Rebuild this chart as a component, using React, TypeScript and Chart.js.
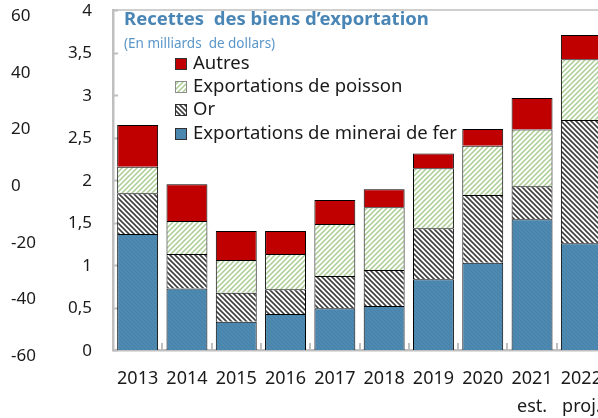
import React, { useEffect, useRef } from 'react';
import { Chart, registerables } from 'chart.js';

Chart.register(...registerables);

// ---- Data ----
const categories: (string | string[])[] = [
  '2013', '2014', '2015', '2016', '2017', '2018', '2019', '2020',
  ['2021', 'est.'], ['2022', 'proj.'],
];
const ironOre = [1.365, 0.725, 0.333, 0.424, 0.49, 0.518, 0.831, 1.027, 1.537, 1.255];
const gold = [0.478, 0.404, 0.342, 0.29, 0.381, 0.423, 0.6, 0.796, 0.39, 1.451];
const fish = [0.314, 0.389, 0.384, 0.415, 0.611, 0.737, 0.706, 0.579, 0.667, 0.714];
const others = [0.49, 0.431, 0.341, 0.271, 0.283, 0.212, 0.176, 0.197, 0.372, 0.286];

const seriesNames = ['Exportations de minerai de fer', 'Or', 'Exportations de poisson', 'Autres'];
const titleText = 'Recettes  des biens d\u2019exportation';
const subtitleText = '(En milliards  de dollars)';

const innerMin = 0, innerMax = 4, innerStep = 0.5;
const outerMin = -60, outerMax = 60, outerStep = 20;

const FONT = '"Noto Sans", "DejaVu Sans", sans-serif';

function makePattern(
  ctx: CanvasRenderingContext2D, bg: string, fg: string, size: number, lw: number, dir: 'fwd' | 'back'
): CanvasPattern | string {
  const c = document.createElement('canvas');
  c.width = size; c.height = size;
  const x = c.getContext('2d')!;
  x.fillStyle = bg; x.fillRect(0, 0, size, size);
  x.strokeStyle = fg; x.lineWidth = lw;
  x.beginPath();
  if (dir === 'fwd') {
    x.moveTo(-1, size + 1); x.lineTo(size + 1, -1);
    x.moveTo(-size / 2, size / 2); x.lineTo(size / 2, -size / 2);
    x.moveTo(size / 2, size * 1.5); x.lineTo(size * 1.5, size / 2);
  } else {
    x.moveTo(-1, -1); x.lineTo(size + 1, size + 1);
    x.moveTo(-size / 2, size / 2); x.lineTo(size / 2, size * 1.5);
    x.moveTo(size / 2, -size / 2); x.lineTo(size * 1.5, size / 2);
  }
  x.stroke();
  return ctx.createPattern(c, 'repeat') || bg;
}

export default function App() {
  const ref = useRef<HTMLCanvasElement>(null);

  useEffect(() => {
    const canvas = ref.current!;
    const ctx = canvas.getContext('2d')!;

    const bluePat = makePattern(ctx, '#4d89b0', '#4580a6', 4, 1, 'back');
    const goldPat = makePattern(ctx, '#ffffff', '#3f3f3f', 5, 1.6, 'back');
    const fishPat = makePattern(ctx, '#ffffff', '#a9cd92', 5, 1.5, 'fwd');
    const red = '#c00000';
    const fills = [bluePat, goldPat, fishPat, red];
    const values = [ironOre, gold, fish, others];

    const decor = {
      id: 'decor',
      beforeDatasetsDraw(chart: any) {
        const { ctx: c, chartArea, scales } = chart;
        c.save();
        c.strokeStyle = '#bfbfbf';
        c.lineWidth = 1.5;
        c.beginPath();
        c.moveTo(chartArea.left, chartArea.top);
        c.lineTo(chartArea.right, chartArea.top);
        c.stroke();
        c.lineWidth = 2;
        const ys = scales.y;
        for (const t of ys.ticks) {
          const py = Math.round(ys.getPixelForValue(t.value)) + 0.5;
          c.beginPath();
          c.moveTo(chartArea.left, py);
          c.lineTo(chartArea.left + 5, py);
          c.stroke();
        }
        const xs = scales.x;
        for (let i = 0; i < categories.length - 1; i++) {
          const px = Math.round((xs.getPixelForValue(i) + xs.getPixelForValue(i + 1)) / 2);
          c.beginPath();
          c.moveTo(px, chartArea.bottom);
          c.lineTo(px, chartArea.bottom - 7);
          c.stroke();
        }
        c.restore();
      },
      afterDraw(chart: any) {
        const c = chart.ctx;
        c.save();
        c.textBaseline = 'middle';
        c.textAlign = 'left';
        c.fillStyle = '#4a86b5';
        c.font = `bold 18.5px ${FONT}`;
        c.fillText(titleText, 124, 20);
        c.fillStyle = '#5b96c9';
        c.font = `13.5px ${FONT}`;
        c.fillText(subtitleText, 124, 44);
        const rows = [64, 87, 110, 134];
        const order = [3, 2, 1, 0];
        c.font = `18.5px ${FONT}`;
        order.forEach((di, r) => {
          const cy = rows[r];
          c.fillStyle = fills[di];
          c.fillRect(175, cy - 6, 12, 12);
          c.strokeStyle = di === 2 ? '#8c8c8c' : '#303030';
          c.lineWidth = 1;
          c.strokeRect(175.5, cy - 5.5, 11, 11);
          c.fillStyle = '#1a1a1a';
          c.fillText(seriesNames[di], 193, cy);
        });
        c.restore();
      },
    };

    const noPad = (s: any) => { s.paddingTop = 0; s.paddingBottom = 0; };

    const chart = new Chart(ctx, {
      type: 'bar',
      data: {
        labels: categories as any,
        datasets: values.map((v, i) => ({
          label: seriesNames[i],
          data: v,
          backgroundColor: fills[i] as any,
          borderColor: '#000000',
          borderWidth: { top: 1, left: 1, right: 1, bottom: 0 },
          borderSkipped: false,
          categoryPercentage: 1,
          barPercentage: 0.83,
          yAxisID: 'y',
        })),
      },
      options: {
        responsive: false,
        animation: false,
        devicePixelRatio: 1,
        layout: { padding: { left: 11, top: 10, right: 14, bottom: 0 } },
        plugins: {
          legend: { display: false },
          title: { display: false },
          tooltip: { enabled: false },
        },
        scales: {
          x: {
            stacked: true,
            grid: { display: false, drawTicks: false },
            border: { display: true, color: '#bfbfbf', width: 2.5 },
            ticks: {
              color: '#1a1a1a',
              font: { family: FONT, size: 18, lineHeight: 1.6 },
              padding: 14,
              maxRotation: 0,
              autoSkip: false,
            },
            afterFit(s: any) { s.height = 68; },
          },
          y: {
            stacked: true,
            position: 'left',
            weight: 0,
            min: innerMin,
            max: innerMax,
            grid: { display: false, drawTicks: false },
            border: { display: true, color: '#bfbfbf', width: 2.5 },
            ticks: {
              stepSize: innerStep,
              color: '#1a1a1a',
              font: { family: FONT, size: 17, lineHeight: 1 },
              padding: 21,
              labelOffset: 1,
              callback: (v: any) => String(v).replace('.', ','),
            },
            afterFit(s: any) { s.width = 62; noPad(s); },
          },
          y2: {
            position: 'left',
            weight: 1,
            min: outerMin,
            max: outerMax,
            grid: { display: false, drawTicks: false },
            border: { display: false },
            ticks: {
              stepSize: outerStep,
              color: '#1a1a1a',
              font: { family: FONT, size: 17, lineHeight: 1 },
              crossAlign: 'far',
              padding: 0,
              labelOffset: 6,
            },
            afterFit(s: any) { s.width = 40; noPad(s); },
          },
        },
      },
      plugins: [decor],
    } as any);

    return () => chart.destroy();
  }, []);

  return (
    <div style={{ position: 'fixed', left: 0, top: 0, width: 598, height: 418, overflow: 'hidden', background: '#ffffff' }}>
      <canvas ref={ref} width={620} height={418} style={{ display: 'block', width: 620, height: 418 }} />
    </div>
  );
}
